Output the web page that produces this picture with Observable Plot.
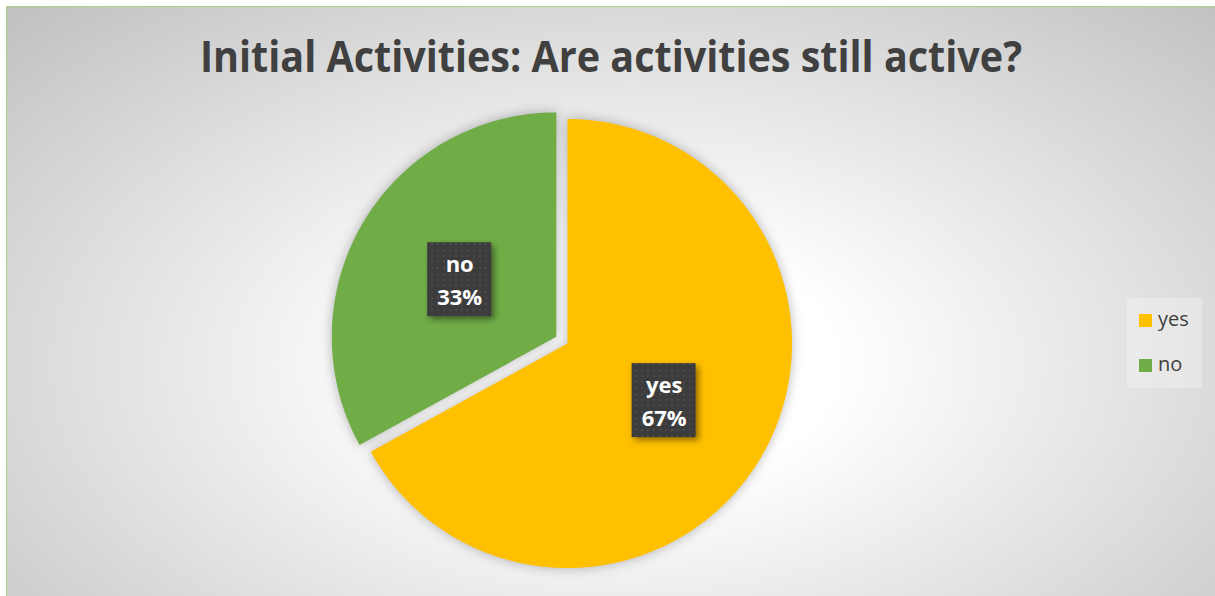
<!DOCTYPE html>
<html>
<head>
<meta charset="utf-8">
<script src="https://cdn.jsdelivr.net/npm/d3@7"></script>
<script src="https://cdn.jsdelivr.net/npm/@observablehq/plot@0.6"></script>
<style>
  html, body { margin: 0; padding: 0; }
  body { width: 1215px; height: 596px; overflow: hidden; background: #ffffff; position: relative; font-family: "Open Sans", sans-serif; }
  #frame {
    position: absolute; left: 6px; top: 6px; width: 1215px; height: 596px;
    border-left: 1.5px solid #a9d18e; border-top: 1.5px solid #a9d18e;
    background: radial-gradient(ellipse farthest-corner at 51% 60%, #ffffff 0%, #ffffff 24%, #c0c0c0 100%);
  }
  #titlesvg { position: absolute; left: 0; top: 0; }
  #pie { position: absolute; left: 327px; top: 103px; }
  #legend {
    position: absolute; left: 1127px; top: 298px; width: 75px; height: 90px;
    background: rgba(255,255,255,0.28);
  }
  .sw { position: absolute; width: 13px; height: 13px; }
  .lt { position: absolute; font-size: 20px; color: #404040; line-height: 20px; }
</style>
</head>
<body>
<div id="frame"></div>
<svg id="titlesvg" width="1215" height="100">
  <text id="title" x="611" y="72" text-anchor="middle" font-family="Open Sans" font-weight="bold" font-size="43" fill="#404040"></text>
</svg>
<div id="pie"></div>
<div id="legend"></div>
<script>
// ---- data ----
const titleText = "Initial Activities: Are activities still active?";
const categories = ["yes", "no"];
const shares = [67, 33];            // percent
const colors = ["#FFC000", "#70AD47"];
const explode = [0, 0.058];         // slice explosion (fraction of radius)

document.getElementById("title").textContent = titleText;
document.getElementById("title").setAttribute("textLength", 822);
document.getElementById("title").setAttribute("lengthAdjust", "spacingAndGlyphs");

const rows = categories.map((c, i) => ({label: c, value: shares[i], explode: explode[i]}));
const arcs = d3.pie().sort(null).value(d => d.value)(rows);

// slice outlines in data units (unit radius), y up
const slicePts = [];
const labelPts = [];
arcs.forEach(a => {
  const mid = (a.startAngle + a.endAngle) / 2;
  const ox = a.data.explode * Math.sin(mid), oy = a.data.explode * Math.cos(mid);
  slicePts.push({label: a.data.label, x: ox, y: oy});
  const n = Math.max(2, Math.ceil((a.endAngle - a.startAngle) / (Math.PI / 360)));
  for (let k = 0; k <= n; k++) {
    const t = a.startAngle + (a.endAngle - a.startAngle) * k / n;
    slicePts.push({label: a.data.label, x: ox + Math.sin(t), y: oy + Math.cos(t)});
  }
  slicePts.push({label: a.data.label, x: ox, y: oy});
  labelPts.push({label: a.data.label, pct: a.data.value, x: ox + 0.5 * Math.sin(mid), y: oy + 0.5 * Math.cos(mid)});
});

const R = 224.5, S = 480;
const D = (S / 2) / R;
const bw = 32 / R, bh = 37 / R;

const plot = Plot.plot({
  width: S, height: S,
  margin: 0,
  x: {domain: [-D, D], axis: null},
  y: {domain: [-D, D], axis: null},
  color: {domain: categories, range: colors},
  style: {background: "transparent", overflow: "visible"},
  marks: [
    Plot.line(slicePts, {x: "x", y: "y", z: "label", fill: "label", stroke: "none", curve: "linear"}),
    Plot.rect(labelPts, {x1: d => d.x - bw, x2: d => d.x + bw, y1: d => d.y - bh, y2: d => d.y + bh, fill: "url(#dotpat)"}),
    Plot.text(labelPts, {x: "x", y: "y", text: d => `${d.label}\n${d.pct}%`, fill: "white", fontWeight: "bold", fontSize: 22, fontFamily: "Open Sans", lineHeight: 1.5, dy: -2})
  ]
});

// pattern defs
const ns = "http://www.w3.org/2000/svg";
const defs = document.createElementNS(ns, "defs");
defs.innerHTML = `<pattern id="dotpat" width="6" height="6" patternUnits="userSpaceOnUse">
  <rect width="6" height="6" fill="#3c3c3c"></rect>
  <rect x="2" y="2" width="2" height="2" fill="#4a4a4a"></rect>
</pattern>`;
plot.insertBefore(defs, plot.firstChild);
plot.querySelectorAll('g[aria-label="line"]').forEach(g => g.style.filter = "drop-shadow(0px 0px 6px rgba(0,0,0,0.28))");
plot.querySelectorAll('g[aria-label="rect"]').forEach(g => g.style.filter = "drop-shadow(3px 3px 3px rgba(0,0,0,0.45))");
document.getElementById("pie").appendChild(plot);

// legend
const leg = document.getElementById("legend");
categories.forEach((c, i) => {
  const sw = document.createElement("div");
  sw.className = "sw";
  sw.style.left = "12px"; sw.style.top = (16 + i * 45) + "px";
  sw.style.background = colors[i];
  leg.appendChild(sw);
  const t = document.createElement("div");
  t.className = "lt";
  t.style.left = "31px"; t.style.top = (11 + i * 45) + "px";
  t.textContent = c;
  leg.appendChild(t);
});
</script>
</body>
</html>
